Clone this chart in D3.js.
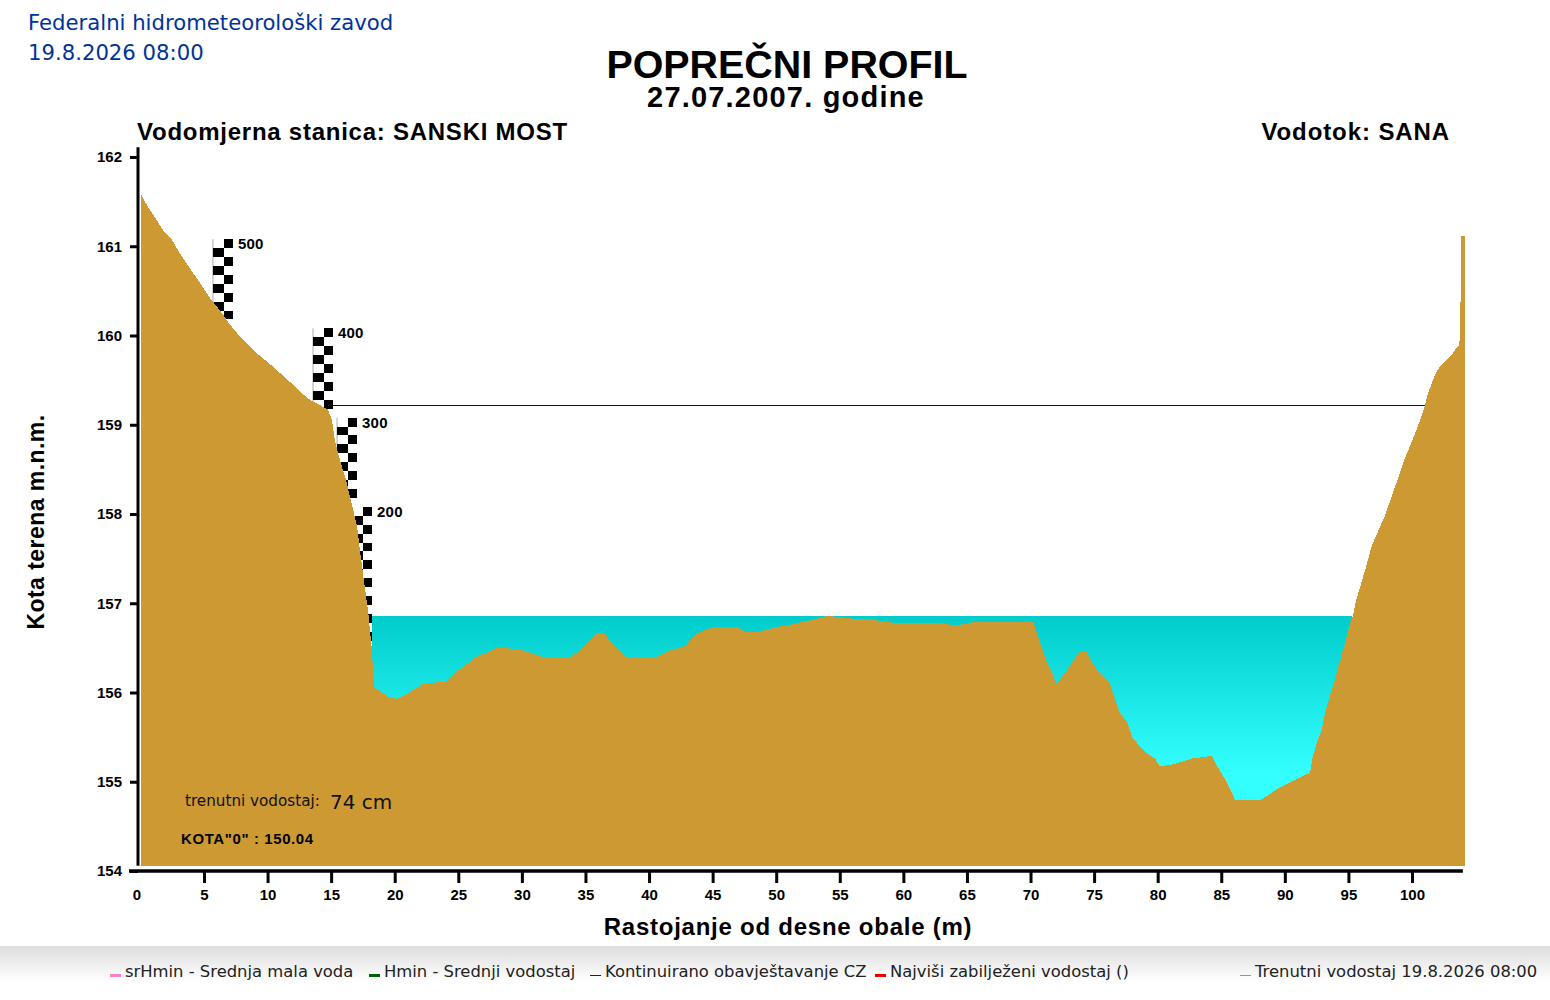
<!DOCTYPE html>
<html>
<head>
<meta charset="utf-8">
<title>Poprečni profil</title>
<script src="https://cdn.jsdelivr.net/npm/d3@7"></script>
<style>
    html, body { margin: 0; padding: 0; background: #fff; }
    svg { display: block; }
    .arial { font-family: "Liberation Sans", Arial, sans-serif; font-weight: bold; fill: #000; }
    .dejavu { font-family: "DejaVu Sans", Verdana, sans-serif; }
    .axis text { font-family: "Liberation Sans", Arial, sans-serif; font-weight: bold; font-size: 15px; fill: #000; }
    .axis line { stroke: #000; stroke-width: 3px; }
</style>
</head>
<body>
<svg id="chart" width="1550" height="1000"></svg>
<script>
const width = 1550;
const height = 1000;

// terrain profile: distance from right bank (m), elevation (m a.s.l.)
const distance = [0.05, 0.52, 1.15, 1.93, 2.49, 3.11, 3.90, 4.69, 5.47, 6.26, 7.05, 7.83, 8.62, 9.41, 10.19, 10.98,
    11.76, 12.55, 13.34, 14.12, 14.75, 15.07, 15.30, 15.70, 16.17, 16.64, 17.03, 17.27, 17.58, 17.90, 18.21, 18.37,
    18.84, 19.47, 20.10, 20.81, 21.36, 22.15, 22.93, 24.03, 24.74, 25.53, 26.24, 27.50, 28.05, 28.67, 29.85, 30.63,
    31.81, 33.78, 34.57, 35.36, 35.98, 36.54, 37.32, 38.11, 39.29, 40.47, 41.65, 42.83, 43.77, 44.95, 47.00, 47.55,
    48.73, 49.91, 51.09, 52.66, 54.08, 55.81, 57.38, 59.35, 62.88, 64.06, 65.64, 70.20, 70.51, 70.90, 71.22, 71.53,
    72.08, 72.55, 73.26, 73.89, 74.44, 74.83, 75.46, 76.25, 76.64, 77.03, 77.59, 78.06, 79.16, 79.79, 80.18, 81.36,
    82.70, 84.27, 84.66, 85.45, 86.08, 88.12, 88.60, 89.38, 90.64, 91.98, 92.21, 92.53, 92.92, 93.16, 93.55, 93.94,
    94.34, 94.73, 95.12, 95.36, 95.60, 96.31, 96.85, 97.87, 98.90, 99.29, 99.69, 100.24, 100.63, 101.02, 101.26,
    101.65, 101.97, 102.44, 103.00, 103.55, 103.70, 103.80, 103.85, 104.20];
const elevation = [161.58, 161.46, 161.32, 161.15, 161.07, 160.92, 160.75, 160.59, 160.42, 160.28, 160.12, 159.99,
    159.88, 159.77, 159.68, 159.58, 159.48, 159.37, 159.28, 159.22, 159.17, 159.05, 158.82, 158.60, 158.38, 158.10,
    157.87, 157.59, 157.25, 156.92, 156.47, 156.06, 156.02, 155.95, 155.93, 155.97, 156.02, 156.09, 156.11, 156.12,
    156.22, 156.30, 156.39, 156.46, 156.50, 156.50, 156.48, 156.45, 156.39, 156.39, 156.47, 156.58, 156.67, 156.65,
    156.51, 156.40, 156.39, 156.39, 156.47, 156.52, 156.66, 156.73, 156.73, 156.68, 156.68, 156.73, 156.76, 156.81,
    156.86, 156.83, 156.82, 156.78, 156.78, 156.75, 156.79, 156.79, 156.66, 156.50, 156.35, 156.26, 156.10, 156.19,
    156.33, 156.47, 156.45, 156.33, 156.21, 156.10, 155.93, 155.77, 155.67, 155.48, 155.32, 155.26, 155.17, 155.20,
    155.26, 155.29, 155.18, 154.99, 154.80, 154.80, 154.84, 154.92, 155.01, 155.10, 155.29, 155.44, 155.59, 155.77,
    155.96, 156.15, 156.36, 156.55, 156.77, 156.86, 157.03, 157.37, 157.65, 157.98, 158.40, 158.57, 158.71, 158.90,
    159.05, 159.22, 159.35, 159.50, 159.61, 159.69, 159.76, 159.87, 159.89, 160.03, 161.11, 161.11];

const terrain_base = 154.06;

// current water level and the warning line
const water_level = 156.86;
const water_from = 18.19;
const water_to = 95.30;
const water_deepest = 154.80;
const warning_level = 159.22;
const warning_from = 15.05;
const warning_to = 101.02;

// staff gauge sections
const gauge_labels = [500, 400, 300, 200];
const gauge_spans = [100, 100, 100, 200];
const gauge_dist = [6.57, 14.44, 16.33, 17.51];
const gauge_zero = 156.08;

const x_ticks = [0, 5, 10, 15, 20, 25, 30, 35, 40, 45, 50, 55, 60, 65, 70, 75, 80, 85, 90, 95, 100];
const y_ticks = [154, 155, 156, 157, 158, 159, 160, 161, 162];

const legend_text = ['srHmin - Srednja mala voda', 'Hmin - Srednji vodostaj', 'Kontinuirano obavještavanje CZ',
    'Najviši zabilježeni vodostaj ()', 'Trenutni vodostaj 19.8.2026 08:00'];
const legend_colors = ['#ff80c0', '#006400', '#222222', '#ee0000', '#40b8c0'];
const legend_weights = [3, 3, 1, 3, 1];
const legend_x = [110, 369, 590, 875, 1240];

const x = d3.scaleLinear().domain([0, 100]).range([140.4, 1412]);
const y = d3.scaleLinear().domain([154, 162]).range([871, 157]);

const svg = d3.select('#chart');

// page footer and water gradients
const defs = svg.append('defs');
const water_grad = defs.append('linearGradient').attr('id', 'water').attr('x1', 0).attr('x2', 0).attr('y1', 0).attr('y2', 1);
water_grad.append('stop').attr('offset', '0%').attr('stop-color', '#00cccc');
water_grad.append('stop').attr('offset', '85%').attr('stop-color', '#33ffff');
const foot_grad = defs.append('linearGradient').attr('id', 'foot').attr('x1', 0).attr('x2', 0).attr('y1', 0).attr('y2', 1);
foot_grad.append('stop').attr('offset', '0%').attr('stop-color', '#dddddd');
foot_grad.append('stop').attr('offset', '100%').attr('stop-color', '#ffffff');

svg.append('rect')
    .attr('x', 0).attr('y', 946)
    .attr('width', width).attr('height', 36)
    .attr('fill', 'url(#foot)');

// header
svg.append('text').attr('class', 'dejavu').attr('x', 28).attr('y', 30)
    .style('font-size', '21.2px').style('fill', '#003399')
    .text('Federalni hidrometeorološki zavod');
svg.append('text').attr('class', 'dejavu').attr('x', 28).attr('y', 60)
    .style('font-size', '21.2px').style('fill', '#003399')
    .text('19.8.2026 08:00');

svg.append('text').attr('class', 'arial').attr('x', 787).attr('y', 78)
    .attr('text-anchor', 'middle').style('font-size', '39.4px')
    .text('POPREČNI PROFIL');
svg.append('text').attr('class', 'arial').attr('x', 786).attr('y', 107)
    .attr('text-anchor', 'middle').style('font-size', '29px').style('letter-spacing', '1.2px')
    .text('27.07.2007. godine');
svg.append('text').attr('class', 'arial').attr('x', 137).attr('y', 140)
    .style('font-size', '24px').style('letter-spacing', '0.75px')
    .text('Vodomjerna stanica: SANSKI MOST');
svg.append('text').attr('class', 'arial').attr('x', 1450).attr('y', 140)
    .attr('text-anchor', 'end').style('font-size', '24px').style('letter-spacing', '0.9px')
    .text('Vodotok: SANA');

// staff gauge, the terrain and the water cover its lower part
const gauges = svg.append('g').attr('class', 'gauges');
gauge_labels.forEach(function (label, g) {
    const right = x(gauge_dist[g]);
    const top_value = gauge_zero + label / 100;
    gauges.append('line')
        .attr('x1', right - 11).attr('x2', right - 11)
        .attr('y1', y(top_value)).attr('y2', y(top_value - gauge_spans[g] / 100))
        .attr('stroke', '#aaaaaa');
    for (let i = 0; i < gauge_spans[g] / 10; i++) {
        const value = top_value - i / 10;
        gauges.append('rect')
            .attr('x', i % 2 == 0 ? right : right - 11)
            .attr('y', y(value))
            .attr('width', i % 2 == 0 ? 9 : 11)
            .attr('height', y(value - 0.1) - y(value))
            .attr('fill', '#000')
            .attr('shape-rendering', 'crispEdges');
    }
    svg.append('text').attr('class', 'arial')
        .attr('x', right + 14).attr('y', y(top_value) + 10)
        .style('font-size', '15px').style('letter-spacing', '0.2px')
        .text(label);
});

// water, then the terrain on top of it
svg.append('rect')
    .attr('x', x(water_from))
    .attr('y', y(water_level))
    .attr('width', x(water_to) - x(water_from))
    .attr('height', y(water_deepest) - y(water_level))
    .attr('fill', 'url(#water)')
    .attr('shape-rendering', 'crispEdges');

svg.append('line')
    .attr('x1', x(warning_from)).attr('x2', x(warning_to))
    .attr('y1', y(warning_level)).attr('y2', y(warning_level))
    .attr('stroke', '#000099')
    .attr('shape-rendering', 'crispEdges');

const area = d3.area()
    .x(function (d, i) { return x(distance[i]); })
    .y0(y(terrain_base))
    .y1(function (d) { return y(d); });

svg.append('path')
    .attr('d', area(elevation))
    .attr('fill', '#cc9933')
    .attr('shape-rendering', 'crispEdges');

// axes
const x_axis = svg.append('g').attr('class', 'axis')
    .attr('transform', `translate(0,${y(154)})`)
    .call(d3.axisBottom(x).tickValues(x_ticks).tickSize(12).tickPadding(6).tickFormat(d3.format('d')));
x_axis.select('.domain').remove();
x_axis.selectAll('.tick').filter(function (d) { return d == 0; }).select('line').remove();
x_axis.selectAll('.tick').filter(function (d) { return d == 0; }).select('text').attr('x', -4);

const y_axis = svg.append('g').attr('class', 'axis')
    .attr('transform', 'translate(138,0)')
    .call(d3.axisLeft(y).tickValues(y_ticks).tickSize(8).tickPadding(8).tickFormat(d3.format('d')));
y_axis.select('.domain').remove();

svg.append('line')
    .attr('x1', 138).attr('x2', 138)
    .attr('y1', y(162.11)).attr('y2', y(154.06))
    .attr('stroke', '#000').attr('stroke-width', 3);
svg.append('line')
    .attr('x1', 129).attr('x2', x(104))
    .attr('y1', y(154)).attr('y2', y(154))
    .attr('stroke', '#000').attr('stroke-width', 3.5);

// axis titles
svg.append('text').attr('class', 'arial')
    .attr('transform', 'translate(44,522) rotate(-90)')
    .attr('text-anchor', 'middle').style('font-size', '23px').style('letter-spacing', '0.45px')
    .text('Kota terena m.n.m.');
svg.append('text').attr('class', 'arial')
    .attr('x', 788).attr('y', 935)
    .attr('text-anchor', 'middle').style('font-size', '24px').style('letter-spacing', '0.75px')
    .text('Rastojanje od desne obale (m)');

// notes on the terrain
svg.append('text').attr('class', 'dejavu').attr('x', 185).attr('y', 806)
    .style('font-size', '15.2px').style('fill', '#111')
    .text('trenutni vodostaj:');
svg.append('text').attr('class', 'dejavu').attr('x', 330).attr('y', 809)
    .style('font-size', '20px').style('fill', '#111')
    .text('74 cm');
svg.append('text').attr('class', 'arial').attr('x', 181).attr('y', 844)
    .style('font-size', '15px').style('letter-spacing', '0.6px')
    .text('KOTA"0" : 150.04');

// legend
legend_text.forEach(function (t, i) {
    svg.append('line')
        .attr('x1', legend_x[i]).attr('x2', legend_x[i] + 11)
        .attr('y1', 975).attr('y2', 975)
        .attr('stroke', legend_colors[i])
        .attr('stroke-width', legend_weights[i])
        .attr('shape-rendering', 'crispEdges');
    svg.append('text').attr('class', 'dejavu')
        .attr('x', legend_x[i] + 15).attr('y', 977)
        .style('font-size', '16.4px').style('fill', '#222')
        .text(t);
});
</script>
</body>
</html>
